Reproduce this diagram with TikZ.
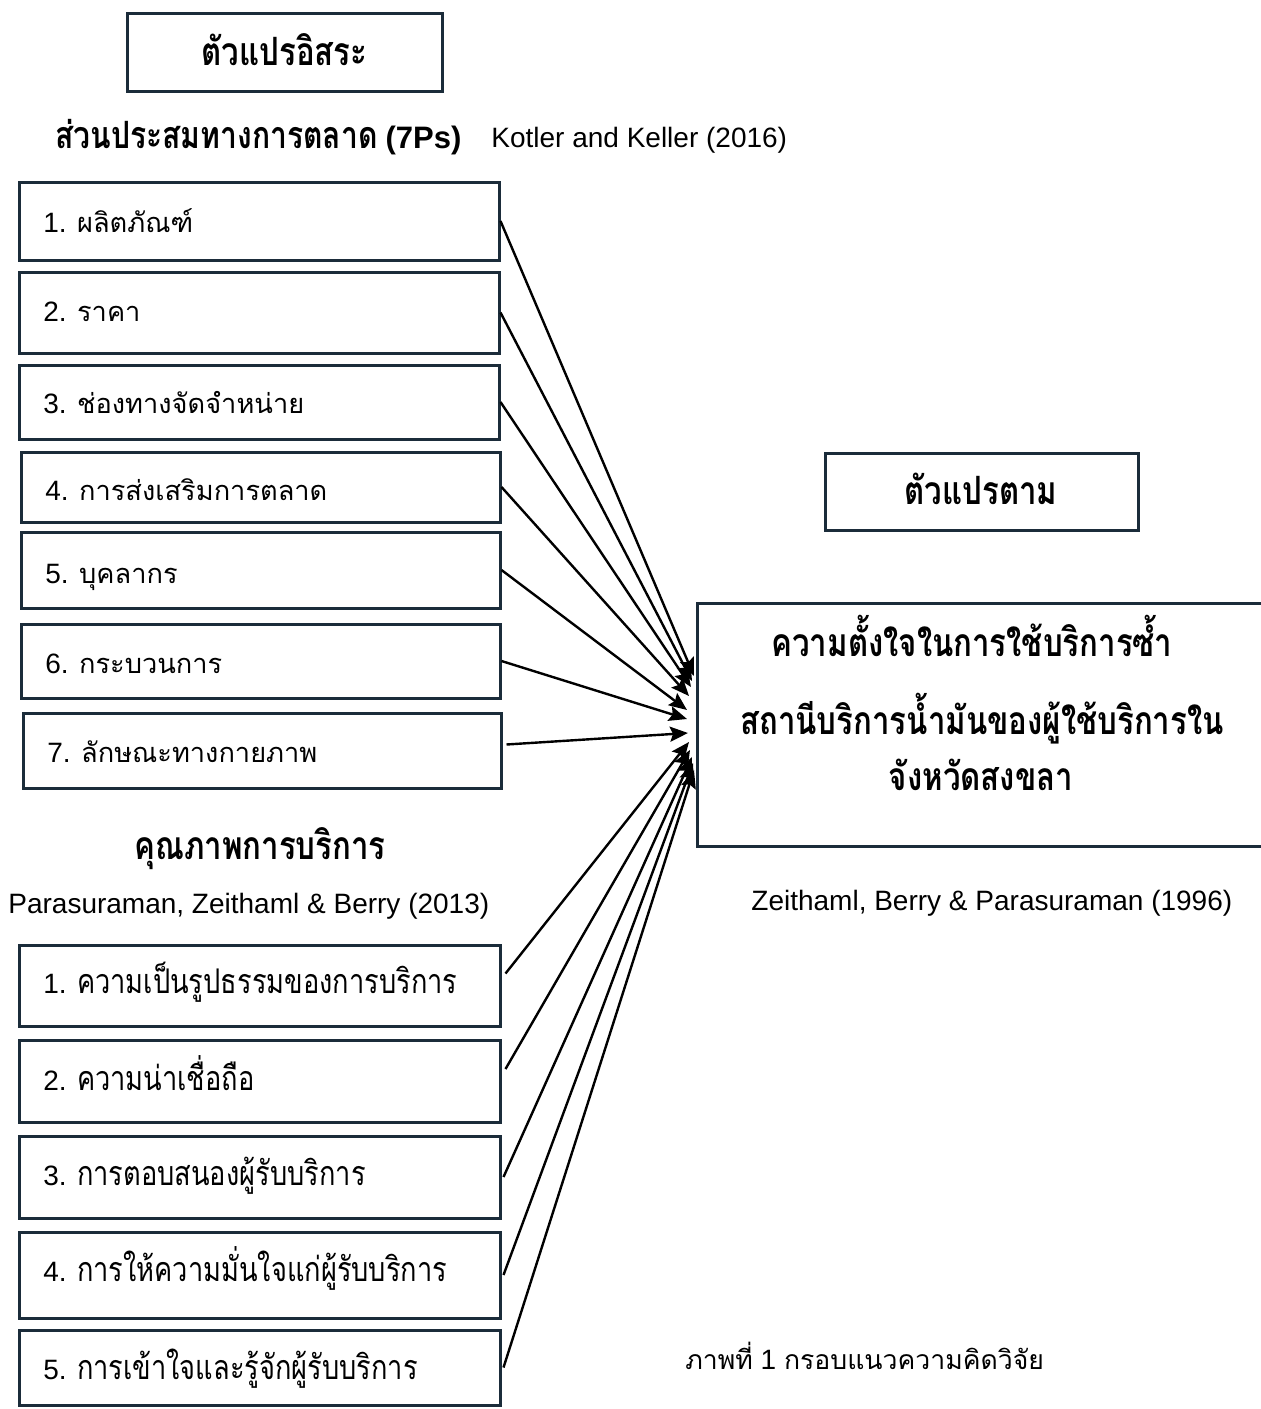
\documentclass[tikz,border=0pt]{standalone}
\usepackage{fontspec}
\setmainfont{Liberation Sans}
\newfontfamily\thai[Script=Thai]{Loma}
\newfontfamily\thaic[Script=Thai,FakeStretch=0.8]{Loma}
\usetikzlibrary{fit,arrows.meta}
\definecolor{boxc}{RGB}{27,44,58}
\newcommand\TL[1]{{\thai\fontsize{13.6}{17}\selectfont #1}}
\newcommand\TLc[1]{{\thai\fontsize{13.3}{17}\selectfont #1}}
\newcommand\TC[1]{{\thaic\fontsize{17}{20}\selectfont #1}}
\newcommand\TB[1]{{\thaic\bfseries\fontsize{19.5}{22}\selectfont #1}}
\newcommand\TBs[1]{{\thaic\bfseries\fontsize{18.8}{22}\selectfont #1}}
\begin{document}
\begin{tikzpicture}[x=0.5pt,y=-0.5pt,
  box/.style={draw=boxc,line width=1.5pt,inner sep=0pt},
  lbl/.style={anchor=base west,inner sep=0pt,font=\fontsize{14}{17}\selectfont},
  ctr/.style={anchor=base,inner sep=0pt,font=\fontsize{14}{17}\selectfont},
  arr/.style={-{Stealth[length=9pt,width=7.5pt,inset=1.5pt]},line width=1.2pt}]
\useasboundingbox (0,0) rectangle (1261,1409);
% headings
\node[box,fit={(127,13)(442,91)}] (iv) {};
\node[ctr] (ivt) at (284.5,65) {\TB{ตัวแปรอิสระ}};
\node[lbl] (h1) at (55,148) {\TBs{ส่วนประสมทางการตลาด} {\fontsize{15.5}{18}\selectfont\bfseries (7Ps)}};
\node[lbl] (r1) at (491,147) {Kotler and Keller (2016)};
% 7Ps boxes
\node[box,fit={(19,182)(499,260)}] (b1) {};
\node[box,fit={(19,272)(499,353)}] (b2) {};
\node[box,fit={(19,365)(499,439)}] (b3) {};
\node[box,fit={(21,452)(500,522)}] (b4) {};
\node[box,fit={(21,532)(500,608)}] (b5) {};
\node[box,fit={(21,624)(500,698)}] (b6) {};
\node[box,fit={(23,713)(501,788)}] (b7) {};
\node[lbl] (b1t) at (43,232) {1. \TL{ผลิตภัณฑ์}};
\node[lbl] (b2t) at (43,321) {2. \TL{ราคา}};
\node[lbl] (b3t) at (43,413) {3. \TL{ช่องทางจัดจำหน่าย}};
\node[lbl] (b4t) at (45,500) {4. \TL{การส่งเสริมการตลาด}};
\node[lbl] (b5t) at (45,583) {5. \TL{บุคลากร}};
\node[lbl] (b6t) at (45,673) {6. \TL{กระบวนการ}};
\node[lbl] (b7t) at (47,762) {7. \TL{ลักษณะทางกายภาพ}};
% service quality
\node[ctr] (h2) at (260,859) {\TB{คุณภาพการบริการ}};
\node[lbl] (r2) at (8,913) {Parasuraman, Zeithaml \& Berry (2013)};
\node[box,fit={(19,945)(500,1026)}] (s1) {};
\node[box,fit={(19,1040)(500,1122)}] (s2) {};
\node[box,fit={(19,1136)(500,1218)}] (s3) {};
\node[box,fit={(19,1232)(500,1318)}] (s4) {};
\node[box,fit={(19,1330)(500,1405)}] (s5) {};
\node[lbl] (s1t) at (43,993) {1. \TC{ความเป็นรูปธรรมของการบริการ}};
\node[lbl] (s2t) at (43,1090) {2. \TC{ความน่าเชื่อถือ}};
\node[lbl] (s3t) at (43,1185) {3. \TC{การตอบสนองผู้รับบริการ}};
\node[lbl] (s4t) at (43,1281) {4. \TC{การให้ความมั่นใจแก่ผู้รับบริการ}};
\node[lbl] (s5t) at (43,1379) {5. \TC{การเข้าใจและรู้จักผู้รับบริการ}};
% dependent
\node[box,fit={(825,453)(1138,530)}] (dv) {};
\node[ctr] (dvt) at (981,504) {\TB{ตัวแปรตาม}};
\draw[boxc,line width=1.5pt] (1262,603) -- (697,603) -- (697,846) -- (1262,846);
\node[ctr] (m1) at (972,656) {\TB{ความตั้งใจในการใช้บริการซ้ำ}};
\node[ctr] (m2) at (982,734) {\TB{สถานีบริการน้ำมันของผู้ใช้บริการใน}};
\node[ctr] (m3) at (981,790) {\TB{จังหวัดสงขลา}};
\node[lbl] (r3) at (751,910) {Zeithaml, Berry \& Parasuraman (1996)};
\node[lbl] (cap) at (685,1369) {\TLc{ภาพที่} 1 \TLc{กรอบแนวความคิดวิจัย}};
% arrow targets
\coordinate (t1) at (694,676);
\coordinate (t2) at (692,681);
\coordinate (t3) at (691,687);
\coordinate (t4) at (689,696);
\coordinate (t5) at (687,710);
\coordinate (t6) at (687,719);
\coordinate (t7) at (688,733);
\coordinate (u1) at (689,742);
\coordinate (u2) at (690,750);
\coordinate (u3) at (692,757);
\coordinate (u4) at (693,763);
\coordinate (u5) at (694,770);
\draw[arr] (b1.east) -- (t1);
\draw[arr] (b2.east) -- (t2);
\draw[arr] (b3.east) -- (t3);
\draw[arr] (b4.east) -- (t4);
\draw[arr] (b5.east) -- (t5);
\draw[arr] (b6.east) -- (t6);
\draw[arr] ([xshift=2pt,yshift=3pt]b7.east) -- (t7);
\draw[arr] ([xshift=2pt,yshift=6pt]s1.east) -- (u1);
\draw[arr] ([xshift=2pt,yshift=6pt]s2.east) -- (u2);
\draw[arr] ([xshift=1pt]s3.east) -- (u3);
\draw[arr] ([xshift=1pt]s4.east) -- (u4);
\draw[arr] ([xshift=1pt]s5.east) -- (u5);
\end{tikzpicture}
\end{document}
